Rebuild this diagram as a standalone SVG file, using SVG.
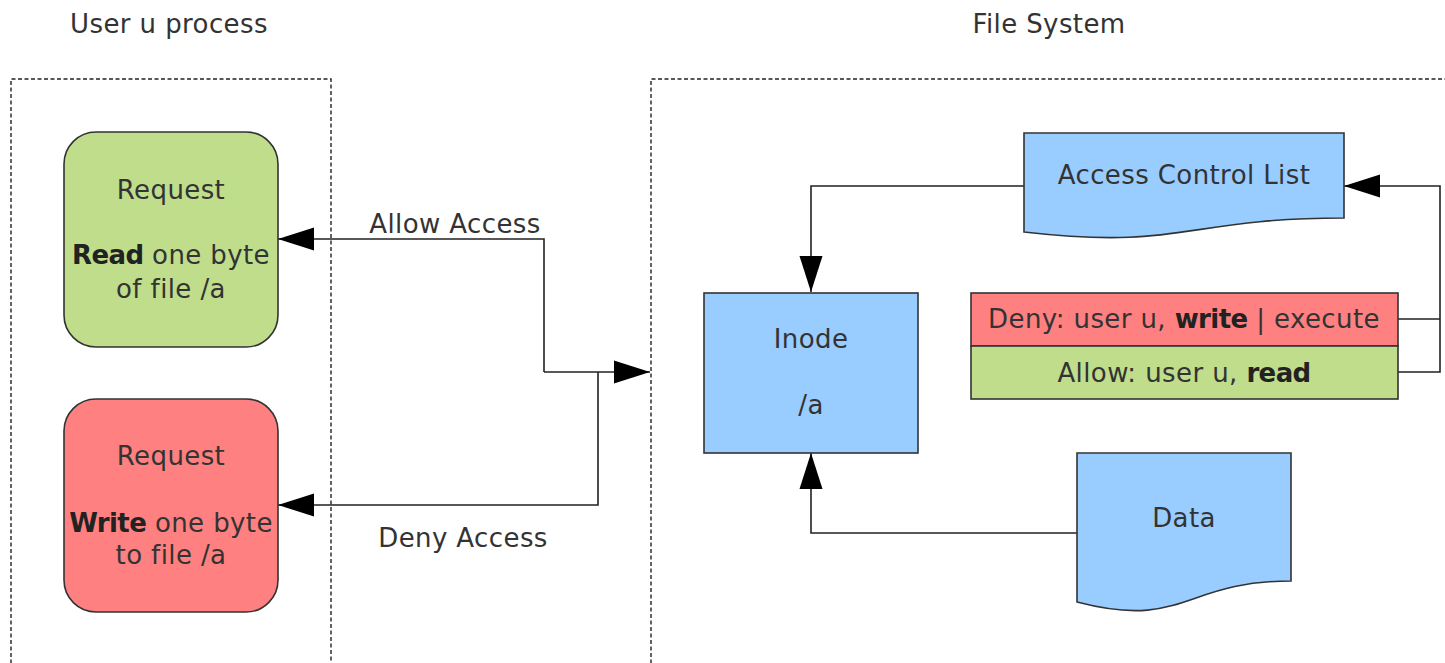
<svg xmlns="http://www.w3.org/2000/svg" width="1445" height="663" viewBox="0 0 1445 663">
<style>
text{font-family:"DejaVu Sans","Liberation Sans",sans-serif;font-size:26px;fill:#333;text-anchor:middle;letter-spacing:0.4px}
.b{font-weight:bold;fill:#222;letter-spacing:-0.6px}
.frame{fill:none;stroke:#222;stroke-width:1.4;stroke-dasharray:4 2.5}
.node{stroke:#333;stroke-width:1.6}
.conn{fill:none;stroke:#222;stroke-width:1.6}
.green{fill:#bfdd8b}
.red{fill:#ff8080}
.blue{fill:#99ccff}
</style>
<defs>
<marker id="arr" markerUnits="userSpaceOnUse" markerWidth="36" markerHeight="24" viewBox="0 0 36 24" refX="36" refY="12" orient="auto">
<path d="M0,0.5 L36,12 L0,23.5 Z" fill="#000"/>
</marker>
</defs>
<g id="frames">
<path class="frame" d="M11,670 V79 H331 V670"/>
<path class="frame" d="M651,670 V79 H1450"/>
<text x="169" y="33">User u process</text>
<text x="1049" y="33">File System</text>
</g>
<g id="connectors">
<path class="conn" d="M544,372 V239 H278" marker-end="url(#arr)"/>
<path class="conn" d="M598,372 V505 H278" marker-end="url(#arr)"/>
<path class="conn" d="M544,372 H650" marker-end="url(#arr)"/>
<path class="conn" d="M1024,186 H811 V292" marker-end="url(#arr)"/>
<path class="conn" d="M1077,533 H811 V453" marker-end="url(#arr)"/>
<path class="conn" d="M1398,319 H1440 M1398,372 H1440 V186 H1344" marker-end="url(#arr)"/>
<text x="455" y="233">Allow Access</text>
<text x="463" y="547">Deny Access</text>
</g>
<g id="read-request">
<rect class="node green" x="64" y="132" width="214" height="215" rx="32"/>
<text x="171" y="199">Request</text>
<text x="171" y="264"><tspan class="b">Read</tspan> one byte</text>
<text x="171" y="298">of file /a</text>
</g>
<g id="write-request">
<rect class="node red" x="64" y="399" width="214" height="213" rx="32"/>
<text x="171" y="465">Request</text>
<text x="171" y="532"><tspan class="b">Write</tspan> one byte</text>
<text x="171" y="564">to file /a</text>
</g>
<g id="inode">
<rect class="node blue" x="704" y="293" width="214" height="160"/>
<text x="811" y="348">Inode</text>
<text x="811" y="414">/a</text>
</g>
<g id="acl">
<path class="node blue" d="M1024,133 H1344 V218 C1184,218 1184,250.4 1024,232 Z"/>
<text x="1184" y="184">Access Control List</text>
</g>
<g id="acl-entries">
<rect class="node red" x="971" y="293" width="427" height="53"/>
<rect class="node green" x="971" y="346" width="427" height="53"/>
<text x="1184" y="328">Deny: user u, <tspan class="b">write</tspan> | execute</text>
<text x="1184" y="382">Allow: user u, <tspan class="b">read</tspan></text>
</g>
<g id="data">
<path class="node blue" d="M1077,453 H1291 V581 C1184,581 1184,630 1077,602 Z"/>
<text x="1184" y="527">Data</text>
</g>
</svg>
